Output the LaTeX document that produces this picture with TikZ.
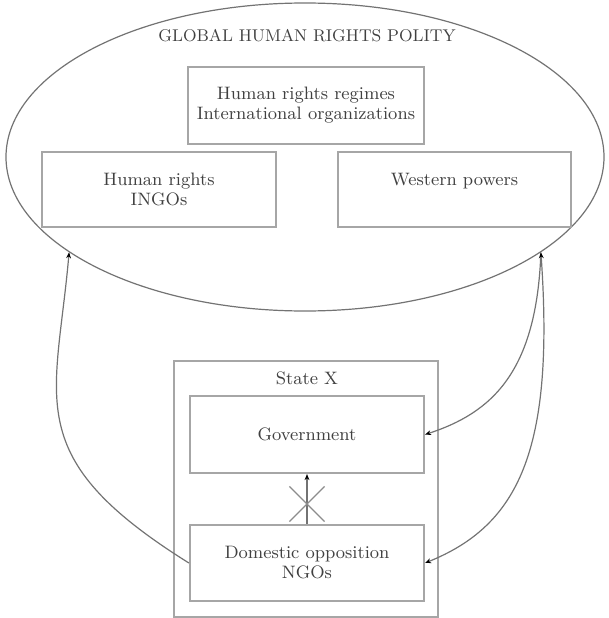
\documentclass[tikz,border=0pt]{standalone}
\usepackage{tikz}
\usetikzlibrary{shapes.geometric, shapes.misc, arrows.meta}

\begin{document}
\begin{tikzpicture}[x=0.5pt, y=0.5pt,
  bx/.style={draw=black!35, line width=1.1pt, align=center, text=black!75,
             font=\fontsize{9}{10}\selectfont, inner sep=0pt},
  ln/.style={draw=black!55, line width=0.6pt},
  arr/.style={-{Stealth[length=3pt, width=2.4pt, black]}},
  arrb/.style={{Stealth[length=3pt, width=2.4pt, black]}-{Stealth[length=3pt, width=2.4pt, black]}}]
\useasboundingbox (0,0) rectangle (609,618);
\node[ln, ellipse, minimum width=299pt, minimum height=154pt] (polity) at (305,461) {};
\node[text=black!75, font=\fontsize{8.5}{10}\selectfont] (title) at (307,582) {GLOBAL HUMAN RIGHTS POLITY};
\node[bx, minimum width=118pt, minimum height=38.5pt] (regimes) at (306,512.5) {Human rights regimes\\International organizations};
\node[bx, minimum width=117pt, minimum height=37.5pt] (ingos) at (159,428.5) {Human rights\\INGOs};
\node[bx, minimum width=116.5pt, minimum height=37.5pt] (west) at (454.5,428.5) {Western powers\\\mbox{}};
% state X
\node[bx, minimum width=132pt, minimum height=128pt] (state) at (306,129) {};
\node[text=black!75, font=\fontsize{9}{10}\selectfont] (statelbl) at (307,240) {State X};
\node[bx, minimum width=117pt, minimum height=38.5pt] (gov) at (307,183.5) {Government};
\node[bx, minimum width=117pt, minimum height=38pt] (dom) at (307,55) {Domestic opposition\\NGOs};
\draw[ln, arr] (dom) -- node[pos=0.4, cross out, draw=black!45, line width=0.6pt,
  minimum size=17pt, inner sep=0pt] (block) {} (gov);
% boomerang
\draw[ln, arr] (dom.west) to[out=148, in=265, out distance=100pt, in distance=75pt] (polity.202);
\draw[ln, arr] (polity.338) to[out=268, in=18, out distance=60pt, in distance=35pt] (gov.east);
\draw[ln, arrb] (polity.338) to[out=274, in=22, out distance=100pt, in distance=50pt] (dom.east);
\end{tikzpicture}
\end{document}
